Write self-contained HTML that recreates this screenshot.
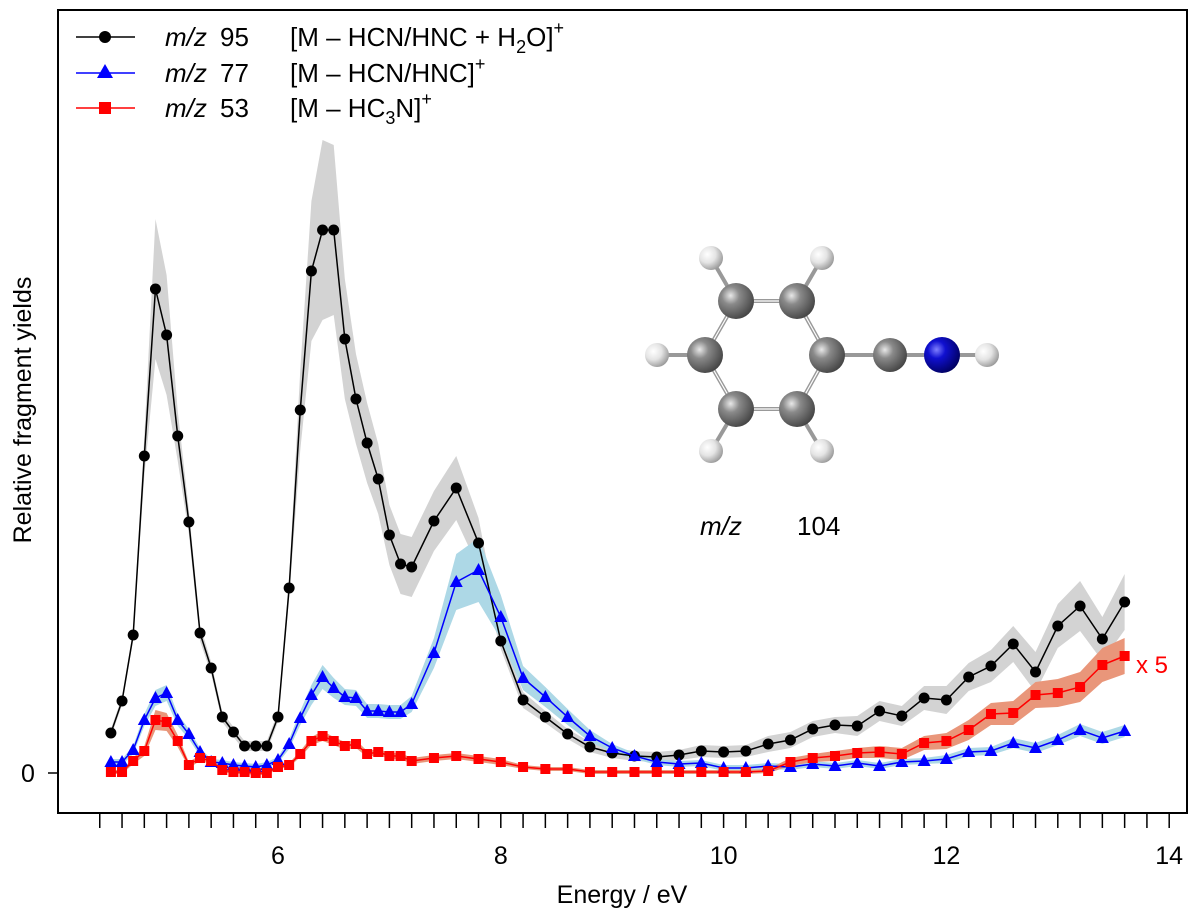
<!DOCTYPE html>
<html><head><meta charset="utf-8">
<style>
html,body{margin:0;padding:0;background:#fff;}
svg{display:block;font-family:"Liberation Sans",sans-serif;}
</style></head>
<body>
<svg id="chart" width="1200" height="914" viewBox="0 0 1200 914" xmlns="http://www.w3.org/2000/svg">
<defs>
<radialGradient id="gC" cx="0.35" cy="0.35" r="0.7"><stop offset="0" stop-color="#e8e8e8"/><stop offset="0.35" stop-color="#8a8a8a"/><stop offset="1" stop-color="#444"/></radialGradient>
<radialGradient id="gH" cx="0.35" cy="0.35" r="0.7"><stop offset="0" stop-color="#ffffff"/><stop offset="0.5" stop-color="#e4e4e4"/><stop offset="1" stop-color="#999"/></radialGradient>
<radialGradient id="gN" cx="0.35" cy="0.35" r="0.7"><stop offset="0" stop-color="#8080ff"/><stop offset="0.35" stop-color="#1010d0"/><stop offset="1" stop-color="#000060"/></radialGradient>
<clipPath id="plotClip"><rect x="58" y="10" width="1129" height="803"/></clipPath>
</defs>
<g id="bands" clip-path="url(#plotClip)"></g>
<g id="series" clip-path="url(#plotClip)"></g>
<rect x="58" y="10" width="1129" height="803" fill="none" stroke="#000" stroke-width="2"/>
<g id="axes"></g>
<text x="622" y="903" font-size="25" text-anchor="middle">Energy / eV</text>
<text transform="translate(31,410) rotate(-90)" font-size="25" text-anchor="middle">Relative fragment yields</text>
<g>
  <g>
    <line x1="76" y1="37" x2="135" y2="37" stroke="#000" stroke-width="1.5"/>
    <circle cx="105" cy="37" r="6" fill="#000"/>
    <text x="165" y="46" font-size="26"><tspan font-style="italic">m/z</tspan><tspan x="220">95</tspan><tspan x="290">[M – HCN/HNC + H</tspan><tspan font-size="18" dy="7">2</tspan><tspan dy="-7">O]</tspan><tspan font-size="18" dy="-12">+</tspan></text>
  </g>
  <g>
    <line x1="76" y1="73" x2="135" y2="73" stroke="#0000ff" stroke-width="1.5"/>
    <polygon points="105,64 113,78 97,78" fill="#0000ff"/>
    <text x="165" y="82" font-size="26"><tspan font-style="italic">m/z</tspan><tspan x="220">77</tspan><tspan x="290">[M – HCN/HNC]</tspan><tspan font-size="18" dy="-12">+</tspan></text>
  </g>
  <g>
    <line x1="76" y1="108" x2="135" y2="108" stroke="#ff0000" stroke-width="1.5"/>
    <rect x="99" y="102" width="12" height="12" fill="#ff0000"/>
    <text x="165" y="117" font-size="26"><tspan font-style="italic">m/z</tspan><tspan x="220">53</tspan><tspan x="290">[M – HC</tspan><tspan font-size="18" dy="7">3</tspan><tspan dy="-7">N]</tspan><tspan font-size="18" dy="-12">+</tspan></text>
  </g>
</g>
<text x="1136" y="673" font-size="24" fill="#ff0000">x 5</text>
<text x="700" y="535" font-size="26"><tspan font-style="italic">m/z</tspan><tspan x="797">104</tspan></text>
<g>
  <g stroke="#999" stroke-width="4">
    <line x1="736" y1="301" x2="711" y2="258"/><line x1="797" y1="301" x2="822" y2="258"/>
    <line x1="705" y1="355" x2="657" y2="355"/><line x1="736" y1="409" x2="711" y2="451"/>
    <line x1="797" y1="409" x2="822" y2="451"/>
    <line x1="736" y1="301" x2="797" y2="301"/><line x1="797" y1="301" x2="827" y2="355"/>
    <line x1="827" y1="355" x2="797" y2="409"/><line x1="797" y1="409" x2="736" y2="409"/>
    <line x1="736" y1="409" x2="705" y2="355"/><line x1="705" y1="355" x2="736" y2="301"/>
    <line x1="827" y1="355" x2="890" y2="355"/><line x1="890" y1="355" x2="942" y2="355"/>
    <line x1="942" y1="355" x2="987" y2="355"/>
  </g>
  <g stroke="#fff" stroke-width="1.2">
    <line x1="736" y1="301" x2="797" y2="301"/><line x1="797" y1="301" x2="827" y2="355"/>
    <line x1="827" y1="355" x2="797" y2="409"/><line x1="797" y1="409" x2="736" y2="409"/>
    <line x1="736" y1="409" x2="705" y2="355"/><line x1="705" y1="355" x2="736" y2="301"/>
  </g>
  <circle cx="711" cy="258" r="12" fill="url(#gH)"/><circle cx="822" cy="258" r="12" fill="url(#gH)"/>
  <circle cx="657" cy="355" r="12" fill="url(#gH)"/><circle cx="711" cy="451" r="12" fill="url(#gH)"/>
  <circle cx="822" cy="451" r="12" fill="url(#gH)"/><circle cx="987" cy="355" r="12" fill="url(#gH)"/>
  <circle cx="736" cy="301" r="18" fill="url(#gC)"/><circle cx="797" cy="301" r="18" fill="url(#gC)"/>
  <circle cx="705" cy="355" r="18" fill="url(#gC)"/><circle cx="827" cy="355" r="18" fill="url(#gC)"/>
  <circle cx="736" cy="409" r="18" fill="url(#gC)"/><circle cx="797" cy="409" r="18" fill="url(#gC)"/>
  <circle cx="890" cy="355" r="17" fill="url(#gC)"/><circle cx="942" cy="355" r="18" fill="url(#gN)"/>
</g>
</svg>
<script>
const energies = [4.5,4.6,4.7,4.8,4.9,5.0,5.1,5.2,5.3,5.4,5.5,5.6,5.7,5.8,5.9,6.0,6.1,6.2,6.3,6.4,6.5,6.6,6.7,6.8,6.9,7.0,7.1,7.2,7.4,7.6,7.8,8.0,8.2,8.4,8.6,8.8,9.0,9.2,9.4,9.6,9.8,10.0,10.2,10.4,10.6,10.8,11.0,11.2,11.4,11.6,11.8,12.0,12.2,12.4,12.6,12.8,13.0,13.2,13.4,13.6];
const mz95 = [40,72,138,317,484,438,337,251,140,105,56,41,27,27,27,56,185,363,502,543,543,434,374,330,294,238,209,206,252,285,230,132,73,56,39,26,20,17,16,18,22,21,22,29,33,44,48,47,62,57,75,73,96,107,129,101,147,167,134,171];
const mz95Err = [4,4,5,20,70,60,25,12,8,6,5,5,5,5,5,5,10,40,70,90,85,60,45,40,35,30,30,30,30,32,25,8,8,6,5,5,5,5,5,5,6,6,6,8,8,8,8,10,10,10,12,14,14,16,18,20,22,25,22,28];
const mz77 = [11,11,23,53,75,80,53,39,21,11,10,8,7,6,8,13,29,55,78,96,85,76,75,62,62,61,61,69,120,191,203,156,95,76,56,37,25,17,11,9,10,5,5,7,6,9,7,10,7,11,12,14,21,22,30,25,33,43,35,42];
const mz77Err = [3,3,4,6,8,8,6,5,4,3,3,3,3,3,3,3,5,7,10,12,10,8,8,7,7,7,7,8,15,28,32,22,12,10,8,6,4,3,3,3,3,3,3,3,3,3,3,3,3,3,3,4,4,4,5,5,5,6,6,6];
const mz53 = [1,1,12,22,53,51,32,8,15,12,3,1,1,0,0,6,8,19,32,37,32,27,29,19,21,17,17,12,15,17,14,11,6,4,4,1,1,1,1,1,1,1,1,2,11,15,17,20,21,19,30,32,43,59,60,78,80,86,108,117];
const mz53Err = [2,2,3,5,10,9,6,3,3,3,2,2,2,2,2,2,2,3,4,5,4,4,4,3,3,3,3,3,3,3,3,3,2,2,2,2,2,2,2,2,2,2,2,2,4,4,5,5,6,6,7,8,10,11,12,13,14,15,17,18];
const xTickLabels = [6,8,10,12,14];
const yTickLabels = [0];

const NS = "http://www.w3.org/2000/svg";
function xPos(e){ return 278 + (e - 6) * 111.4; }
function yPos(v){ return 773 - v; }
function mk(tag, attrs, parent){ const el = document.createElementNS(NS, tag); for (const k in attrs) el.setAttribute(k, attrs[k]); parent.appendChild(el); return el; }

const axes = document.getElementById('axes');
for (let i = 0; i <= 48; i++) {
  const e = 4.4 + i * 0.2;
  const t = mk('line', {x1: xPos(e), x2: xPos(e), y1: 813, y2: 828, stroke: '#000', 'stroke-width': 1.5}, axes);
  
  
}
xTickLabels.forEach(v => {
  const t = mk('text', {x: xPos(v), y: 864, 'font-size': 25, 'text-anchor': 'middle'}, axes);
  t.textContent = v;
  
  
});
yTickLabels.forEach(v => {
  const l = mk('line', {x1: 48, x2: 58, y1: yPos(v), y2: yPos(v), stroke: '#000', 'stroke-width': 1.5}, axes);
  
  
  const t = mk('text', {x: 28, y: yPos(v) + 9, 'font-size': 25, 'text-anchor': 'middle'}, axes);
  t.textContent = v;
  
  
});

const bands = document.getElementById('bands');
const series = document.getElementById('series');
function drawSeries(vals, errs, color, bandColor, marker, name) {
  let up = '', dn = '';
  vals.forEach((v, i) => { up += (i ? 'L' : 'M') + xPos(energies[i]) + ',' + yPos(v + errs[i]); });
  for (let i = vals.length - 1; i >= 0; i--) dn += 'L' + xPos(energies[i]) + ',' + yPos(Math.max(vals[i] - errs[i], -2));
  const b = mk('path', {d: up + dn + 'Z', fill: bandColor, stroke: 'none'}, bands);
  
  
  const g = mk('g', {}, series);
  
  
  const pts = vals.map((v, i) => xPos(energies[i]) + ',' + yPos(v)).join(' ');
  mk('polyline', {points: pts, fill: 'none', stroke: color, 'stroke-width': 1.5}, g);
  vals.forEach((v, i) => {
    const x = xPos(energies[i]), y = yPos(v);
    let m;
    if (marker === 'circle') m = mk('circle', {cx: x, cy: y, r: 5.5, fill: color}, g);
    else if (marker === 'tri') m = mk('polygon', {points: `${x},${y-7} ${x+6.5},${y+5} ${x-6.5},${y+5}`, fill: color}, g);
    else m = mk('rect', {x: x - 5, y: y - 5, width: 10, height: 10, fill: color}, g);
    
    
  });
}
drawSeries(mz95, mz95Err, '#000000', '#d3d3d3', 'circle', 'mz95');
drawSeries(mz77, mz77Err, '#0000ff', '#add8e6', 'tri', 'mz77');
drawSeries(mz53, mz53Err, '#ff0000', '#e9967a', 'square', 'mz53');
</script>
</body></html>
